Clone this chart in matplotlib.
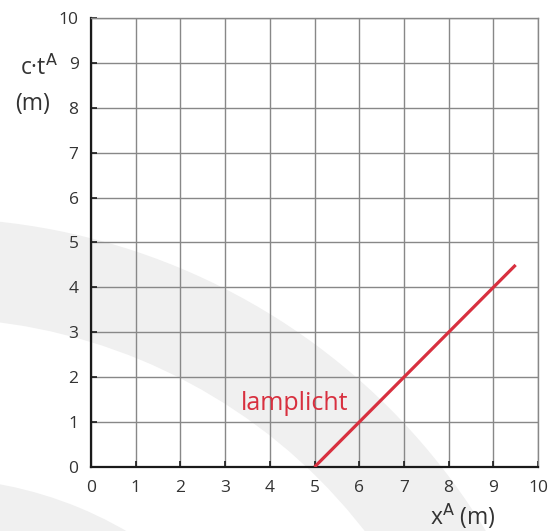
import matplotlib.pyplot as plt
from matplotlib.patches import Wedge

# lamplicht: straight worldline from x=5 m at t=0
x_light = [5, 9.5]
ct_light = [0, 4.5]

x_ticks = list(range(0, 11))
y_ticks = list(range(0, 11))

plt.rcParams["font.family"] = ["Open Sans", "DejaVu Sans"]

W, H = 555, 531
fig = plt.figure(figsize=(W / 100, H / 100), dpi=100)
fig.patch.set_facecolor("white")

# light grey watermark bands behind the chart (pixel coordinates)
bg = fig.add_axes([0, 0, 1, 1], zorder=0)
bg.set_xlim(0, W)
bg.set_ylim(H, 0)
bg.axis("off")
bg.add_patch(Wedge((-70, 868), 650, 0, 360, width=100, color="#f0f0f0", lw=0))
bg.add_patch(Wedge((-70, 868), 390, 0, 360, width=120, color="#f0f0f0", lw=0))

ax = fig.add_axes([91 / W, 1 - 467 / H, (538 - 91) / W, (467 - 18) / H], zorder=1)
ax.set_facecolor("none")
ax.set_xlim(0, 10)
ax.set_ylim(0, 10)
ax.set_xticks(x_ticks)
ax.set_yticks(y_ticks)
ax.grid(True, color="#888888", lw=1.0)
ax.set_axisbelow(True)

for side in ["top", "right"]:
    ax.spines[side].set_color("#888888")
    ax.spines[side].set_linewidth(1.0)
for side in ["left", "bottom"]:
    ax.spines[side].set_color("#1a1a1a")
    ax.spines[side].set_linewidth(1.6)

ax.tick_params(direction="in", length=4, width=1.2, color="#1a1a1a",
               labelsize=12.5, labelcolor="#333333")
ax.tick_params(axis="x", pad=9)
ax.tick_params(axis="y", pad=9)

ax.plot(x_light, ct_light, color="#d8303f", lw=2.3, solid_capstyle="butt", zorder=3)
ax.text(4.55, 1.42, "lamplicht", color="#d8303f", fontsize=18,
        ha="center", va="center", zorder=3)

fig.text(39 / W, 1 - 68 / H, "c·t$^{\\mathrm{A}}$", fontsize=16.5, color="#333333",
         ha="center", va="center")
fig.text(33 / W, 1 - 104 / H, "(m)", fontsize=16.5, color="#333333",
         ha="center", va="center")
fig.text(463 / W, 1 - 516 / H, "x$^{\\mathrm{A}}$ (m)", fontsize=16.5, color="#333333",
         ha="center", va="center")

fig.savefig("out.png", dpi=100)
